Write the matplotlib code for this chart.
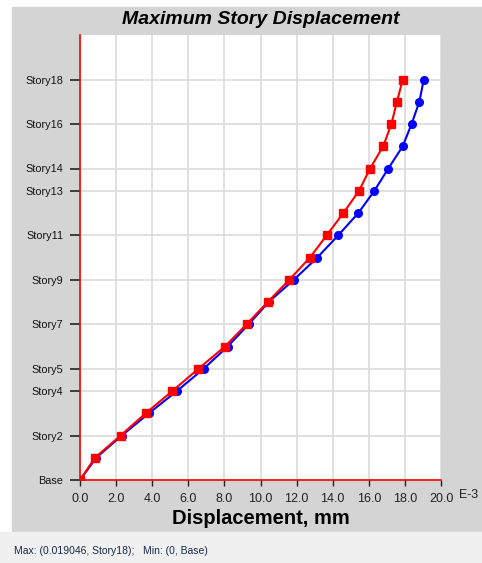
import numpy as np
import matplotlib.pyplot as plt
from matplotlib.patches import Rectangle

plt.rcParams['font.family'] = ['Liberation Sans', 'DejaVu Sans']

# story levels and displacements (x 1E-3 mm as shown on the axis)
levels = np.arange(0, 19)
disp_red = [0, 0.83, 2.25, 3.64, 5.12, 6.56, 8.03, 9.23, 10.4, 11.6,
            12.74, 13.67, 14.59, 15.46, 16.07, 16.8, 17.25, 17.56, 17.88]
disp_blue = [0, 0.9, 2.32, 3.82, 5.37, 6.85, 8.18, 9.35, 10.45, 11.85,
             13.15, 14.31, 15.42, 16.31, 17.08, 17.88, 18.37, 18.8, 19.046]
tick_levels = [0, 2, 4, 5, 7, 9, 11, 13, 14, 16, 18]
tick_names = ['Base', 'Story2', 'Story4', 'Story5', 'Story7', 'Story9',
              'Story11', 'Story13', 'Story14', 'Story16', 'Story18']
xticks = np.arange(0, 21, 2)

W, H = 482, 563
fig = plt.figure(figsize=(W / 100, H / 100), dpi=100, facecolor='white')
fig.patches.append(Rectangle((12 / W, (H - 532) / H), (W - 12) / W, (532 - 7) / H,
                             transform=fig.transFigure, color='#d4d4d4', zorder=-10))
fig.patches.append(Rectangle((0, 0), 1, (H - 532) / H,
                             transform=fig.transFigure, color='#f0f0f0', zorder=-10))

ax = fig.add_axes([80 / W, (H - 480) / H, (441 - 80) / W, (480 - 35) / H])
ax.set_facecolor('white')
ax.set_xlim(0, 20)
ax.set_ylim(0, 20)

ax.plot(disp_blue, levels, color='#0000ff', marker='o', ms=5.5, lw=1.5, zorder=3)
ax.plot(disp_red, levels, color='#ff0000', marker='s', ms=5.5, lw=1.5, zorder=4)

ax.set_xticks(xticks)
ax.set_xticklabels(['%.1f' % v for v in xticks], fontsize=9, color='#222222')
ax.set_yticks(tick_levels)
ax.set_yticklabels(tick_names, fontsize=7.8, color='#111111')
ax.grid(True, color='#dcdcdc', lw=1.2)
ax.set_axisbelow(True)
ax.tick_params(axis='y', length=7, width=1.2, color='#222222', pad=5)
ax.tick_params(axis='x', length=4, width=1, color='#222222', pad=5)
for s in ['top', 'right']:
    ax.spines[s].set_visible(False)
for s in ['left', 'bottom']:
    ax.spines[s].set_color('#ff0000')
    ax.spines[s].set_linewidth(1.2)

ax.text(1.05, -0.021, 'E-3', transform=ax.transAxes, fontsize=9,
        color='#222222', va='top', ha='left')
ax.set_xlabel('Displacement, mm', fontsize=14.5, fontweight='bold', labelpad=3)
ax.set_title('Maximum Story Displacement', fontsize=14, fontweight='bold',
             style='italic', pad=8)

fig.text(14 / W, (H - 551) / H, 'Max: (0.019046, Story18);   Min: (0, Base)',
         fontsize=7.5, color='#1a2a4a', va='center')

fig.savefig('out.png', dpi=100)
